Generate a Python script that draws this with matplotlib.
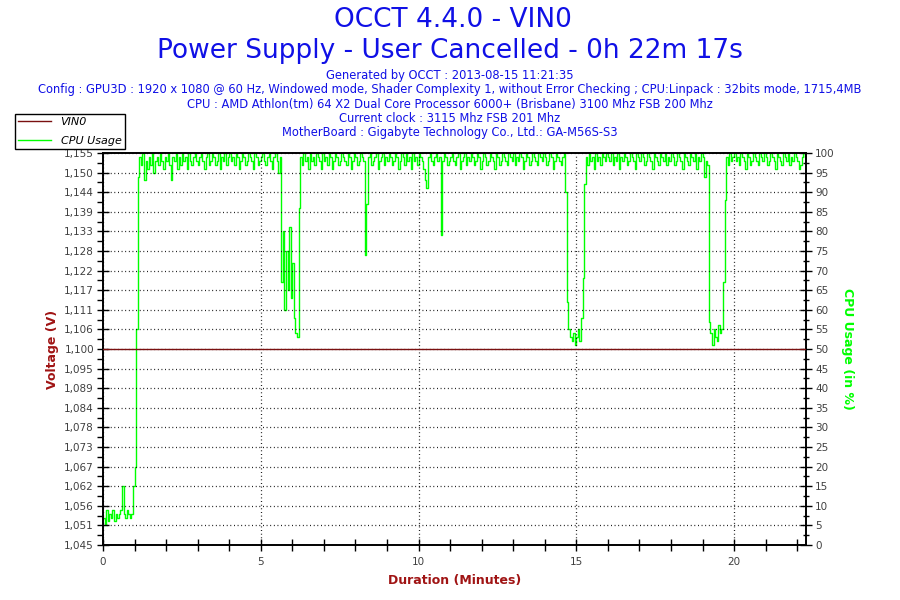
import numpy as np
import matplotlib
matplotlib.use("Agg")
import matplotlib.pyplot as plt
from matplotlib.ticker import FixedLocator, MultipleLocator

plt.rcParams['font.family'] = ['DejaVu Sans']

# ---------------- data ----------------
title_lines = ["OCCT 4.4.0 - VIN0", "Power Supply - User Cancelled - 0h 22m 17s"]
info_lines = [
    "Generated by OCCT : 2013-08-15 11:21:35",
    "Config : GPU3D : 1920 x 1080 @ 60 Hz, Windowed mode, Shader Complexity 1, without Error Checking ; CPU:Linpack : 32bits mode, 1715,4MB",
    "CPU : AMD Athlon(tm) 64 X2 Dual Core Processor 6000+ (Brisbane) 3100 Mhz FSB 200 Mhz",
    "Current clock : 3115 Mhz FSB 201 Mhz",
    "MotherBoard : Gigabyte Technology Co., Ltd.: GA-M56S-S3",
]

duration_min = 22.28          # 0h 22m 17s
sample_step_min = 0.05        # one CPU sample every 3 s

cpu_usage = [
    # 0.00 - 0.95
    7, 5, 9, 6, 8, 7, 9, 6, 8, 7, 8, 9, 15, 8, 7, 9, 8, 7, 8, 15,
    # 1.00 - 1.95
    20, 55, 94, 99, 97, 100, 93, 98, 96, 99, 97, 100, 95, 98, 99, 97, 100, 98, 96, 99,
    # 2.00 - 2.95
    98, 100, 97, 93, 99, 98, 100, 96, 99, 97, 100, 98, 99, 96, 100, 98, 97, 99, 100, 98,
    # 3.00 - 3.95
    97, 99, 100, 98, 96, 99, 100, 97, 98, 100, 99, 97, 98, 100, 96, 99, 98, 100, 97, 99,
    # 4.00 - 4.95
    100, 98, 99, 97, 100, 99, 96, 98, 100, 99, 97, 98, 100, 99, 98, 96, 100, 99, 97, 98,
    # 5.00 - 5.95
    99, 100, 98, 97, 99, 100, 98, 96, 99, 100, 98, 95, 99, 67, 80, 60, 75, 65, 81, 63,
    # 6.00 - 6.95
    72, 58, 54, 53, 86, 99, 97, 100, 98, 99, 96, 100, 98, 99, 97, 100, 99, 98, 96, 100,
    # 7.00 - 7.95
    98, 99, 97, 100, 99, 96, 98, 100, 99, 97, 98, 100, 99, 98, 97, 100, 99, 96, 98, 100,
    # 8.00 - 8.95
    99, 97, 98, 100, 99, 98, 74, 87, 99, 100, 97, 98, 99, 100, 96, 98, 99, 100, 97, 99,
    # 9.00 - 9.95
    98, 100, 99, 97, 98, 100, 99, 96, 98, 100, 99, 97, 100, 98, 99, 96, 100, 98, 99, 97,
    # 10.00 - 10.95
    100, 99, 98, 96, 93, 91, 99, 100, 98, 97, 99, 100, 98, 99, 79, 98, 100, 99, 97, 98,
    # 11.00 - 11.95
    99, 100, 98, 97, 99, 100, 96, 98, 99, 100, 97, 99, 98, 100, 99, 97, 98, 100, 99, 96,
    # 12.00 - 12.95
    98, 100, 99, 97, 98, 100, 99, 98, 96, 100, 99, 97, 98, 100, 99, 98, 97, 100, 99, 98,
    # 13.00 - 13.95
    100, 97, 99, 98, 100, 99, 96, 98, 100, 99, 97, 98, 100, 99, 98, 97, 100, 99, 98, 100,
    # 14.00 - 14.95
    99, 97, 98, 100, 99, 96, 98, 100, 99, 98, 97, 99, 100, 90, 62, 55, 53, 52, 54, 51,
    # 15.00 - 15.95
    53, 55, 52, 58, 68, 92, 99, 97, 100, 98, 99, 96, 100, 98, 99, 97, 100, 99, 98, 100,
    # 16.00 - 16.95
    99, 98, 100, 97, 99, 98, 100, 96, 99, 98, 100, 99, 97, 98, 100, 99, 98, 96, 100, 99,
    # 17.00 - 17.95
    98, 100, 99, 97, 98, 100, 99, 98, 96, 100, 99, 98, 97, 100, 99, 98, 100, 97, 99, 98,
    # 18.00 - 18.95
    100, 99, 97, 98, 100, 99, 98, 96, 100, 99, 98, 97, 100, 99, 98, 100, 96, 99, 98, 100,
    # 19.00 - 19.95
    99, 94, 98, 97, 57, 54, 51, 55, 53, 52, 56, 54, 55, 67, 88, 99, 97, 100, 98, 99,
    # 20.00 - 20.95
    100, 98, 99, 97, 100, 99, 98, 96, 100, 99, 97, 98, 100, 99, 98, 97, 100, 99, 98, 100,
    # 21.00 - 21.95
    99, 97, 98, 100, 99, 98, 96, 100, 99, 98, 97, 100, 99, 98, 100, 97, 99, 98, 100, 99,
    # 22.00 - 22.25
    98, 96, 97, 99, 100, 99,
]
cpu_time = np.arange(len(cpu_usage)) * sample_step_min

voltage_time = [0.0, duration_min]
voltage = [1.100, 1.100]

volt_ticks = [1.045, 1.0505, 1.056, 1.0615, 1.067, 1.0725, 1.078, 1.0835, 1.089, 1.0945,
              1.100, 1.1055, 1.111, 1.1165, 1.122, 1.1275, 1.133, 1.1385, 1.144, 1.1495, 1.155]
volt_labels = ["1,045", "1,051", "1,056", "1,062", "1,067", "1,073", "1,078", "1,084", "1,089",
               "1,095", "1,100", "1,106", "1,111", "1,117", "1,122", "1,128", "1,133", "1,139",
               "1,144", "1,150", "1,155"]
cpu_ticks = list(range(0, 101, 5))
x_ticks = [0, 5, 10, 15, 20]

# ---------------- style ----------------
BLUE = '#1010e6'
DARKRED = '#7a1010'
LABELRED = '#a01414'
GREEN = '#00ff00'
TICKGRAY = '#404040'
BG = '#fdf8ea'

fig = plt.figure(figsize=(9, 6), dpi=100)
ax = fig.add_axes([103/900, 1-545/600, (806-103)/900, (545-153)/600])
ax2 = ax.twinx()

# background on the lower (cpu) axes, voltage axes on top
ax2.set_zorder(0)
ax.set_zorder(1)
ax.patch.set_visible(False)
ax2.patch.set_facecolor(BG)

lv, = ax.plot(voltage_time, voltage, color=DARKRED, lw=1.0, zorder=3, label="VIN0")
ax.set_xlim(0, duration_min)
ax.set_ylim(1.045, 1.155)
lc, = ax2.plot(cpu_time, cpu_usage, color=GREEN, lw=1.0, zorder=2, label="CPU Usage",
               drawstyle='steps-post')
ax2.set_ylim(0, 100)

# ticks left
ax.yaxis.set_major_locator(FixedLocator(volt_ticks))
ax.set_yticklabels(volt_labels)
ax.yaxis.set_minor_locator(FixedLocator([(a + b) / 2 for a, b in zip(volt_ticks[:-1], volt_ticks[1:])]))
ax.tick_params(axis='y', which='major', direction='inout', length=9, width=1, colors='black',
               labelcolor=TICKGRAY, labelsize=7.5, pad=2)
ax.tick_params(axis='y', which='minor', direction='out', length=4, width=1, colors='black')
# ticks x
ax.xaxis.set_major_locator(FixedLocator(x_ticks))
ax.xaxis.set_minor_locator(MultipleLocator(1))
ax.tick_params(axis='x', which='major', direction='inout', length=9, width=1, colors='black',
               labelcolor=TICKGRAY, labelsize=7.5, pad=4)
ax.tick_params(axis='x', which='minor', direction='inout', length=9, width=1, colors='black')
# ticks right
ax2.yaxis.set_major_locator(FixedLocator(cpu_ticks))
ax2.yaxis.set_minor_locator(MultipleLocator(2.5))
ax2.tick_params(axis='y', which='major', direction='inout', length=9, width=1, colors='black',
                labelcolor=TICKGRAY, labelsize=7.5, pad=2)
ax2.tick_params(axis='y', which='minor', direction='inout', length=5, width=1, colors='black')

for a in (ax, ax2):
    for s in a.spines.values():
        s.set_color('black')
        s.set_linewidth(1.2)

# grid
ax.grid(True, which='major', axis='both', color='black', linestyle=(0, (0.7, 2.2)), linewidth=0.9)

# axis labels
ax.set_xlabel("Duration (Minutes)", color=LABELRED, fontsize=9, fontweight='bold', labelpad=5)
ax.set_ylabel("Voltage (V)", color=LABELRED, fontsize=9, fontweight='bold', labelpad=4)
ax2.set_ylabel("CPU Usage (in %)", color=GREEN, fontsize=9, fontweight='bold', rotation=270,
               labelpad=14)

# titles
fig.text(453/900, 1-20/600, title_lines[0], ha='center', va='center', color=BLUE, fontsize=19)
fig.text(450/900, 1-51/600, title_lines[1], ha='center', va='center', color=BLUE, fontsize=19)
for i, line in enumerate(info_lines):
    fig.text(450/900, 1-(75.5 + 14.3 * i)/600, line, ha='center', va='center', color=BLUE, fontsize=8.3)

# legend
leg = fig.legend(handles=[lv, lc], loc='upper left', bbox_to_anchor=(15/900, 1-114/600),
                 frameon=True, fancybox=False, edgecolor='black', framealpha=1,
                 prop={'style': 'italic', 'size': 8}, handlelength=2.9, borderpad=0.3,
                 labelspacing=0.75, handletextpad=0.9, borderaxespad=0)
leg.get_frame().set_linewidth(1.0)
leg.set_zorder(10)

fig.savefig("out.png", dpi=100)
